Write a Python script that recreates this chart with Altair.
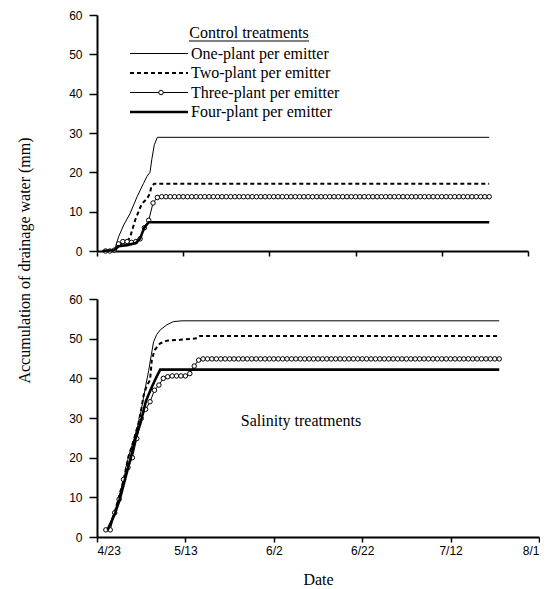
import altair as alt
import pandas as pd

# ---------------- data (day 0 = 4/23) ----------------
x_tick_values = [0, 20, 40, 60, 80, 100]
x_tick_labels = ["4/23", "5/13", "6/2", "6/22", "7/12", "8/1"]
y_tick_values = [0, 10, 20, 30, 40, 50, 60]

series_names = ["One-plant per emitter", "Two-plant per emitter",
                "Three-plant per emitter", "Four-plant per emitter"]

# Control treatments
one_c_days = [1.3, 4.0, 4.3, 5.0, 6.2, 7.7, 9.3, 10.8, 11.6, 12.3, 12.7, 13.3, 14.0, 91]
one_c_vals = [0.0, 0.3, 1.1, 3.6, 6.6, 9.6, 13.8, 17.2, 19.0, 20.0, 23.2, 27.0, 28.9, 28.9]

two_c_days = [1.3, 4.0, 5.0, 6.0, 7.0, 7.7, 8.9, 10.4, 11.6, 12.3, 12.6, 13.3, 91]
two_c_vals = [0.0, 0.2, 1.5, 2.0, 2.3, 3.6, 8.0, 12.0, 13.3, 14.7, 16.4, 17.1, 17.1]

three_c_days = list(range(2, 92))
three_c_vals = [0.0, 0.0, 0.2, 1.8, 2.4, 2.4, 2.2, 2.4, 3.1, 5.9, 7.8, 12.2, 13.6,
                13.8, 13.8, 13.8, 13.8, 13.8, 13.8, 13.8, 13.8, 13.8, 13.8, 13.8,
                13.8, 13.8, 13.8, 13.8, 13.8, 13.8, 13.8, 13.8, 13.8, 13.8, 13.8,
                13.8, 13.8, 13.8, 13.8, 13.8, 13.8, 13.8, 13.8, 13.8, 13.8, 13.8,
                13.8, 13.8, 13.8, 13.8, 13.8, 13.8, 13.8, 13.8, 13.8, 13.8, 13.8,
                13.8, 13.8, 13.8, 13.8, 13.8, 13.8, 13.8, 13.8, 13.8, 13.8, 13.8,
                13.8, 13.8, 13.8, 13.8, 13.8, 13.8, 13.8, 13.8, 13.8, 13.8, 13.8,
                13.8, 13.8, 13.8, 13.8, 13.8, 13.8, 13.8, 13.8, 13.8, 13.8, 13.8]

four_c_days = [1.3, 4.0, 5.0, 7.0, 9.0, 10.0, 11.0, 12.0, 91]
four_c_vals = [0.0, 0.2, 1.2, 1.5, 2.0, 3.2, 6.0, 7.3, 7.3]

# Salinity treatments
one_s_days = [2.0, 2.6, 4.1, 6.0, 7.1, 8.3, 9.4, 10.0, 10.5, 11.0, 11.7, 12.3, 12.8,
              13.5, 14.3, 15.8, 17.3, 19.2, 91]
one_s_vals = [1.8, 1.8, 6.7, 14.3, 20.2, 24.4, 28.8, 32.0, 35.0, 38.0, 42.0, 46.0, 49.2,
              51.0, 52.2, 53.5, 54.3, 54.5, 54.5]

two_s_days = [2.0, 2.6, 4.1, 6.0, 7.1, 8.3, 9.4, 10.0, 10.5, 11.2, 12.0, 12.4, 13.0,
              14.3, 15.8, 18.8, 22.6, 23.3, 91]
two_s_vals = [1.8, 1.8, 6.7, 14.3, 20.2, 24.4, 28.8, 32.0, 35.5, 38.0, 39.6, 44.6, 47.1,
              48.8, 49.5, 49.7, 50.1, 50.7, 50.7]

three_s_days = list(range(2, 92))
three_s_vals = [1.8, 1.8, 6.1, 9.5, 14.5, 17.5, 20.0, 24.8, 29.9, 32.2, 34.1, 37.0,
                38.3, 40.0, 40.4, 40.6, 40.6, 40.6, 40.6, 41.2, 43.1, 44.6, 44.9,
                44.9, 44.9, 44.9, 44.9, 44.9, 44.9, 44.9, 44.9, 44.9, 44.9, 44.9,
                44.9, 44.9, 44.9, 44.9, 44.9, 44.9, 44.9, 44.9, 44.9, 44.9, 44.9,
                44.9, 44.9, 44.9, 44.9, 44.9, 44.9, 44.9, 44.9, 44.9, 44.9, 44.9,
                44.9, 44.9, 44.9, 44.9, 44.9, 44.9, 44.9, 44.9, 44.9, 44.9, 44.9,
                44.9, 44.9, 44.9, 44.9, 44.9, 44.9, 44.9, 44.9, 44.9, 44.9, 44.9,
                44.9, 44.9, 44.9, 44.9, 44.9, 44.9, 44.9, 44.9, 44.9, 44.9, 44.9,
                44.9]

four_s_days = [2.4, 4.1, 5.2, 6.3, 7.5, 8.6, 9.8, 11.1, 12.4, 13.4, 14.3, 91]
four_s_vals = [1.8, 6.0, 9.7, 14.4, 19.4, 24.4, 28.6, 34.4, 37.8, 40.2, 42.2, 42.2]

legend_title = "Control treatments"
salinity_label = "Salinity treatments"
y_title = "Accumulation of drainage water (mm)"
x_title = "Date"

assert len(three_c_days) == len(three_c_vals)
assert len(three_s_days) == len(three_s_vals)

# ---------------- styles ----------------
SERIF = "Liberation Serif"
SANS = "Liberation Sans"
TXT = 16
styles = [
    dict(strokeWidth=1.0),
    dict(strokeWidth=2.0, strokeDash=[4, 3]),
    dict(strokeWidth=1.0),
    dict(strokeWidth=2.6),
]
POINT = dict(shape="circle", size=20, filled=True, fill="white", stroke="black",
             strokeWidth=1, opacity=1)

label_expr = ("[" + ",".join("'%s'" % s for s in x_tick_labels) + "][indexof("
              + str(x_tick_values) + ", datum.value)]")


def make_panel(series, width, height, bottom, extra_layers):
    x_axis = alt.Axis(values=x_tick_values, labelExpr=label_expr, labels=bottom,
                      title=x_title if bottom else None, tickSize=5,
                      labelPadding=3, titlePadding=15, titleFont=SERIF,
                      titleFontSize=TXT, titleFontWeight="normal")
    if bottom:
        y_axis = alt.Axis(values=y_tick_values, title=None, tickSize=8, labelPadding=7)
    else:
        y_axis = alt.Axis(values=y_tick_values, title=y_title, tickSize=8,
                          labelPadding=7, titleX=-73, titleY=245, titleAngle=270,
                          titleAlign="center", titleBaseline="middle",
                          titleFont=SERIF, titleFontSize=16,
                          titleFontWeight="normal")
    X = alt.X("day:Q", scale=alt.Scale(domain=[0, 100], nice=False), axis=x_axis)
    Y = alt.Y("value:Q", scale=alt.Scale(domain=[0, 60], nice=False), axis=y_axis)
    layers = []
    for (name, days, vals), st in zip(series, styles):
        df = pd.DataFrame({"day": days, "value": vals, "series": name})
        layers.append(alt.Chart(df).mark_line(color="black", **st).encode(x=X, y=Y))
        if name.startswith("Three"):
            layers.append(alt.Chart(df).mark_point(**POINT).encode(x=X, y=Y))
    layers += extra_layers
    return alt.layer(*layers).properties(width=width, height=height)


# legend layers for the control panel
legend_layers = []
row_y = [38.5, 58, 77.5, 97]
for name, st, yy in zip(series_names, styles, row_y):
    d = pd.DataFrame({"label": [name]})
    legend_layers.append(alt.Chart(d).mark_rule(color="black", **st).encode(
        x=alt.value(33), x2=alt.value(91), y=alt.value(yy)))
    if name.startswith("Three"):
        legend_layers.append(alt.Chart(d).mark_point(**POINT).encode(
            x=alt.value(64), y=alt.value(yy)))
    legend_layers.append(alt.Chart(d).mark_text(
        align="left", baseline="middle", font=SERIF, fontSize=TXT, color="black").encode(
        x=alt.value(94), y=alt.value(yy), text="label:N"))

dt = pd.DataFrame({"label": [legend_title]})
legend_layers.append(alt.Chart(dt).mark_text(
    align="center", baseline="middle", font=SERIF, fontSize=TXT, color="black").encode(
    x=alt.value(152), y=alt.value(18), text="label:N"))
legend_layers.append(alt.Chart(dt).mark_rule(color="black", strokeWidth=1).encode(
    x=alt.value(92), x2=alt.value(212), y=alt.value(26)))

ds = pd.DataFrame({"label": [salinity_label]})
sal_layers = [alt.Chart(ds).mark_text(
    align="center", baseline="middle", font=SERIF, fontSize=TXT, color="black").encode(
    x=alt.value(204), y=alt.value(122), text="label:N")]

control = [(series_names[0], one_c_days, one_c_vals),
           (series_names[1], two_c_days, two_c_vals),
           (series_names[2], three_c_days, three_c_vals),
           (series_names[3], four_c_days, four_c_vals)]
salinity = [(series_names[0], one_s_days, one_s_vals),
            (series_names[1], two_s_days, two_s_vals),
            (series_names[2], three_s_days, three_s_vals),
            (series_names[3], four_s_days, four_s_vals)]

top = make_panel(control, 431, 236, False, legend_layers)
bottom = make_panel(salinity, 442, 238, True, sal_layers)

chart = alt.vconcat(top, bottom, spacing=48, bounds="flush").properties(
    padding={"left": 8, "top": 1, "right": 0, "bottom": 0}
).configure_view(stroke=None).configure_axis(
    grid=False, domainColor="black", domainWidth=2, tickColor="black",
    tickWidth=1.5, labelColor="black", labelFont=SANS, labelFontSize=12,
    titleColor="black"
)

chart.save("out.html", embed_options={"renderer": "svg", "actions": False})
